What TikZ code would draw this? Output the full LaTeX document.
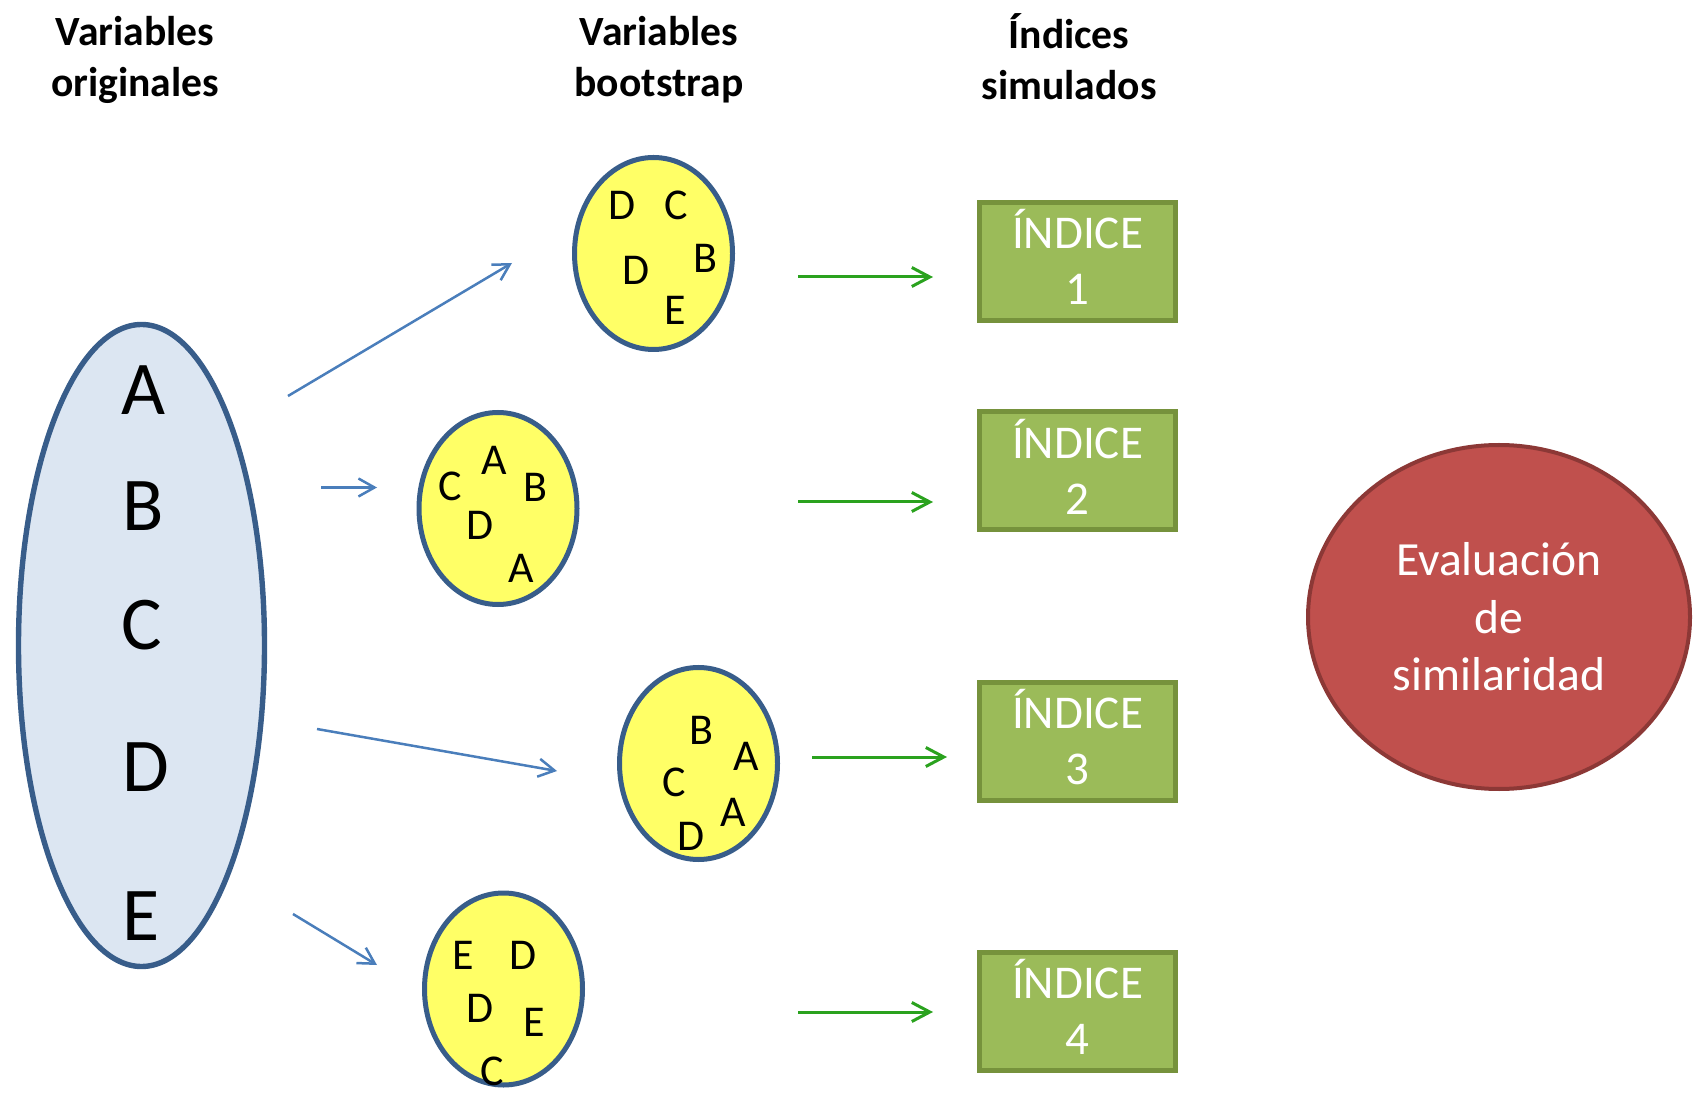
\documentclass[tikz,border=0pt]{standalone}
\usepackage{fontspec}
\setmainfont{Carlito}
\usetikzlibrary{shapes.geometric,arrows.meta}

\definecolor{origfill}{HTML}{DCE6F2}
\definecolor{ovalline}{HTML}{385D8A}
\definecolor{bootfill}{HTML}{FFFF66}
\definecolor{indfill}{HTML}{9BBB59}
\definecolor{indline}{HTML}{76923C}
\definecolor{evalfill}{HTML}{C0504D}
\definecolor{evalline}{HTML}{8C3836}
\definecolor{bootarrow}{HTML}{4A7EBB}
\definecolor{indarrow}{HTML}{2AA21E}

\tikzset{
  origoval/.style={ellipse, draw=ovalline, line width=2.7pt, fill=origfill,
    minimum width=123pt, minimum height=321pt, inner sep=0pt},
  bootoval/.style={ellipse, draw=ovalline, line width=2.5pt, fill=bootfill,
    minimum width=79pt, minimum height=96pt, inner sep=0pt},
  indbox/.style={rectangle, draw=indline, line width=2.5pt, fill=indfill,
    minimum width=98pt, minimum height=59pt, text=white, align=center,
    font=\fontsize{23.5}{28}\selectfont},
  evaloval/.style={ellipse, draw=evalline, line width=2pt, fill=evalfill,
    minimum width=191pt, minimum height=172pt, text=white, align=center,
    font=\fontsize{23.8}{28.75}\selectfont},
  header/.style={align=center, font=\bfseries\fontsize{20.8}{25.5}\selectfont},
  bigletter/.style={inner sep=0pt, font=\fontsize{38}{40}\selectfont},
  letter/.style={inner sep=0pt, font=\fontsize{22}{24}\selectfont},
  resample/.style={draw=bootarrow, line width=1.25pt,
    -{Straight Barb[length=8pt,width=9pt]}},
  simulate/.style={draw=indarrow, line width=1.5pt,
    -{Straight Barb[length=9pt,width=9.5pt]}},
}

\begin{document}
\begin{tikzpicture}[x=0.5pt,y=-0.5pt]
  \useasboundingbox (0,0) rectangle (1701,1095);

  \node[header] (horig) at (135,60) {Variables\\originales};
  \node[header] (hboot) at (659,60) {Variables\\bootstrap};
  \node[header] (hind) at (1069,60) {\smash{Í}ndices\\simulados};

  \node[origoval] (orig) at (141.5,645.5) {};
  \node[bigletter] (origA) at (143,390) {A};
  \node[bigletter] (origB) at (143,506) {B};
  \node[bigletter] (origC) at (142,625) {C};
  \node[bigletter] (origD) at (146,767) {D};
  \node[bigletter] (origE) at (141,916.5) {E};

  \node[bootoval] (boot1) at (653.5,253.5) {};
  \node[letter] (b1a) at (621.7,205.8) {D};
  \node[letter] (b1b) at (675.8,205) {C};
  \node[letter] (b1c) at (705,258.3) {B};
  \node[letter] (b1d) at (636,270.8) {D};
  \node[letter] (b1e) at (675,310.8) {E};

  \node[bootoval] (boot2) at (498,508.5) {};
  \node[letter] (b2a) at (450,486.3) {C};
  \node[letter] (b2b) at (493.8,460) {A};
  \node[letter] (b2c) at (535.3,487.5) {B};
  \node[letter] (b2d) at (480.3,525.8) {D};
  \node[letter] (b2e) at (521.7,568.2) {A};

  \node[bootoval] (boot3) at (698.5,763.5) {};
  \node[letter] (b3a) at (701.3,730) {B};
  \node[letter] (b3b) at (745.8,756.8) {A};
  \node[letter] (b3c) at (674.2,782.5) {C};
  \node[letter] (b3d) at (733.2,812.5) {A};
  \node[letter] (b3e) at (690.8,836.7) {D};

  \node[bootoval] (boot4) at (503.5,989) {};
  \node[letter] (b4a) at (462.8,955.8) {E};
  \node[letter] (b4b) at (523,955.8) {D};
  \node[letter] (b4c) at (480.3,1008.3) {D};
  \node[letter] (b4d) at (533.8,1022.2) {E};
  \node[letter] (b4e) at (492.2,1071) {C};

  \node[indbox] (ind1) at (1077.5,261.5) {\smash{Í}NDICE\\1};
  \node[indbox] (ind2) at (1077.5,471) {\smash{Í}NDICE\\2};
  \node[indbox] (ind3) at (1077.5,741.5) {\smash{Í}NDICE\\3};
  \node[indbox] (ind4) at (1077.5,1011.5) {\smash{Í}NDICE\\4};

  \node[evaloval] (eval) at (1499,617) {Evaluación\\de\\similaridad};

  % flechas de remuestreo
  \coordinate (r1s) at (288,396);
  \coordinate (r1e) at (512,263);
  \coordinate (r2s) at (321,487.5);
  \coordinate (r2e) at (377,487.5);
  \coordinate (r3s) at (317,729);
  \coordinate (r3e) at (557,771);
  \coordinate (r4s) at (293,914);
  \coordinate (r4e) at (377,965);
  \draw[resample] (r1s) -- (r1e);
  \draw[resample] (r2s) -- (r2e);
  \draw[resample] (r3s) -- (r3e);
  \draw[resample] (r4s) -- (r4e);

  % flechas hacia los indices
  \coordinate (s1s) at (798,277);
  \coordinate (s1e) at (933,277);
  \coordinate (s2s) at (798,502);
  \coordinate (s2e) at (933,502);
  \coordinate (s3s) at (812,757);
  \coordinate (s3e) at (947,757);
  \coordinate (s4s) at (798,1012);
  \coordinate (s4e) at (933,1012);
  \draw[simulate] (s1s) -- (s1e);
  \draw[simulate] (s2s) -- (s2e);
  \draw[simulate] (s3s) -- (s3e);
  \draw[simulate] (s4s) -- (s4e);
\end{tikzpicture}
\end{document}
